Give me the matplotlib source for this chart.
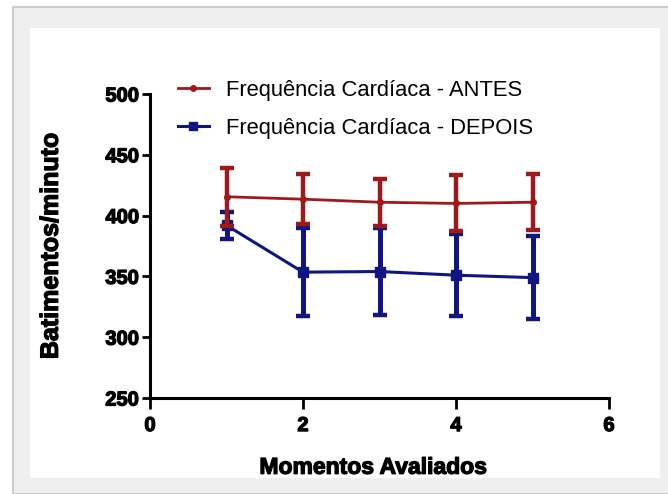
import numpy as np
import matplotlib.pyplot as plt
import matplotlib.patheffects as pe
from matplotlib.patches import Rectangle
from matplotlib.lines import Line2D

# batimentos por momento avaliado (media e desvio padrao)
momentos = [1, 2, 3, 4, 5]
antes_media = [415.5, 413.5, 411, 410, 411]
antes_dp = [24, 20.5, 19.5, 23, 23]
depois_media = [392, 353.5, 354, 351, 349]
depois_dp = [11, 36, 35.5, 33.5, 34]

rotulos = ["Frequência Cardíaca - ANTES", "Frequência Cardíaca - DEPOIS"]
cor_antes = "#9e1a1a"
cor_depois = "#10167f"

plt.rcParams["font.family"] = ["Liberation Sans", "DejaVu Sans"]
negrito = [pe.withStroke(linewidth=0.9, foreground="black")]


def main():
    fig = plt.figure(figsize=(6.68, 4.94), dpi=100)
    fig.patch.set_facecolor("white")

    # moldura cinza e painel branco
    W, H = 668, 494
    fig.patches.append(Rectangle((13 / W, 0), 1, 1 - 7 / H, transform=fig.transFigure,
                                 facecolor="#efefef", edgecolor="#c4c4c4", lw=1.2, zorder=-2))
    fig.patches.append(Rectangle((30 / W, 1 - 478 / H), (660 - 30) / W, (478 - 28) / H,
                                 transform=fig.transFigure, facecolor="white",
                                 edgecolor="none", zorder=-1))

    ax = fig.add_axes([150 / W, 1 - 398 / H, (609 - 150) / W, (398 - 94) / H])
    ax.set_facecolor("none")
    ax.set_zorder(1)

    ax.errorbar(momentos, antes_media, yerr=antes_dp, color=cor_antes, lw=2,
                marker="o", ms=4, elinewidth=3.2, capsize=5, capthick=3.2, zorder=3)
    ax.errorbar(momentos, depois_media, yerr=depois_dp, color=cor_depois, lw=2.2,
                marker="s", ms=6.5, elinewidth=3.6, capsize=5, capthick=3.2, zorder=2)

    ax.set_xlim(0, 6)
    ax.set_ylim(250, 500)
    ax.set_xticks([0, 2, 4, 6])
    ax.set_yticks([250, 300, 350, 400, 450, 500])

    for s in ["top", "right"]:
        ax.spines[s].set_visible(False)
    for s in ["left", "bottom"]:
        ax.spines[s].set_linewidth(2.2)
    ax.tick_params(axis="y", length=6, width=2, pad=2)
    ax.tick_params(axis="x", length=8, width=2, pad=5)
    for lab in ax.get_xticklabels() + ax.get_yticklabels():
        lab.set_fontsize(14.5)
        lab.set_fontweight("bold")
        lab.set_path_effects(negrito)

    ax.set_xlabel("Momentos Avaliados", fontsize=16.5, fontweight="bold",
                  path_effects=negrito)
    ax.xaxis.set_label_coords(0.485, -0.19)
    ax.set_ylabel("Batimentos/minuto", fontsize=18, fontweight="bold",
                  path_effects=negrito)
    ax.yaxis.set_label_coords(-0.19, 0.5)

    alcas = [Line2D([], [], color=cor_antes, lw=2, marker="o", ms=4),
             Line2D([], [], color=cor_depois, lw=2.2, marker="s", ms=6)]
    ax.legend(alcas, rotulos, loc="upper left", bbox_to_anchor=(0.061, 1.047),
              frameon=False, fontsize=15.8, handlelength=1.4, handletextpad=0.8,
              labelspacing=0.78, borderaxespad=0, borderpad=0)

    fig.savefig("out.png", dpi=100)


if __name__ == "__main__":
    main()
